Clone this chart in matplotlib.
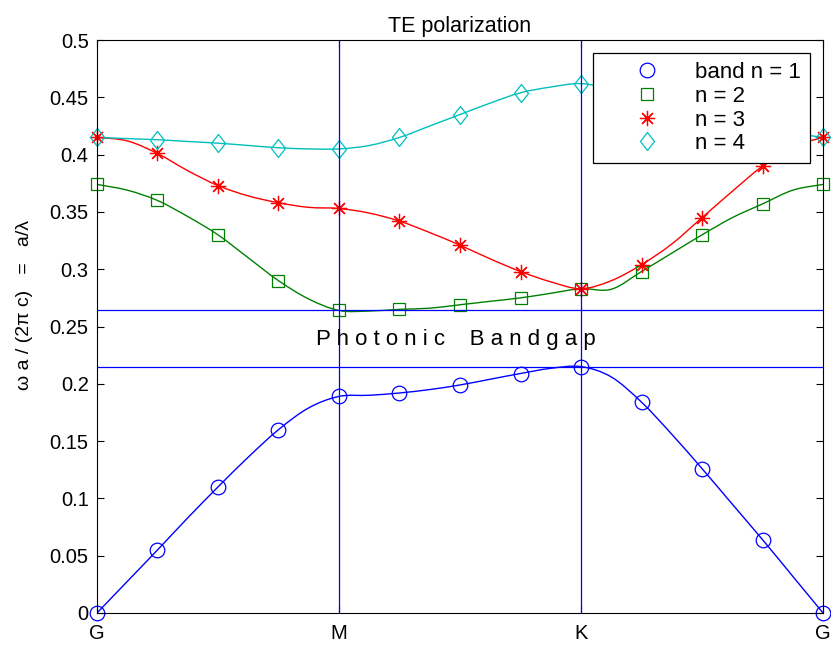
import matplotlib
matplotlib.use("Agg")
import matplotlib.pyplot as plt
from matplotlib.path import Path
from matplotlib.patches import PathPatch
import numpy as np

plt.rcParams.update({
    "font.family": ["Liberation Sans", "DejaVu Sans"],
    "xtick.direction": "in", "ytick.direction": "in",
    "xtick.top": True, "ytick.right": True,
})

# k-path positions of the computed points (G -> M -> K -> G)
k_pts = np.arange(13)
k_ticks = [0, 4, 8, 12]
k_labels = ["G", "M", "K", "G"]

# band frequencies at the marked k points
band1 = [0.0, 0.055, 0.110, 0.160, 0.189, 0.192, 0.199, 0.209, 0.215, 0.184, 0.126, 0.064, 0.0]
band2 = [0.374, 0.360, 0.330, 0.290, 0.264, 0.265, 0.269, 0.275, 0.283, 0.298, 0.330, 0.357, 0.374]
band3 = [0.415, 0.401, 0.373, 0.358, 0.353, 0.342, 0.321, 0.298, 0.283, 0.304, 0.345, 0.390, 0.415]
band4 = [0.415, 0.413, 0.410, 0.406, 0.405, 0.415, 0.435, 0.454, 0.462, 0.450, 0.437, 0.424, 0.415]

# curve values on a half-step grid (also)
k_fine = np.arange(25) / 2
curve1 = [0.0, 0.0275, 0.055, 0.083, 0.110, 0.136, 0.160, 0.179, 0.189, 0.190, 0.192, 0.195,
          0.199, 0.204, 0.209, 0.2135, 0.215, 0.206, 0.184, 0.156, 0.126, 0.095, 0.064, 0.032, 0.0]
curve2 = [0.374, 0.369, 0.360, 0.346, 0.330, 0.310, 0.290, 0.274, 0.264, 0.2635, 0.265, 0.266,
          0.269, 0.272, 0.275, 0.279, 0.283, 0.2825, 0.298, 0.314, 0.330, 0.345, 0.357, 0.369, 0.374]
curve3 = [0.415, 0.412, 0.401, 0.386, 0.373, 0.364, 0.358, 0.354, 0.353, 0.349, 0.342, 0.332,
          0.321, 0.309, 0.298, 0.289, 0.283, 0.290, 0.304, 0.322, 0.345, 0.368, 0.390, 0.407, 0.415]
curve4 = [0.415, 0.414, 0.413, 0.4115, 0.410, 0.408, 0.406, 0.405, 0.405, 0.408, 0.415, 0.425,
          0.435, 0.445, 0.454, 0.459, 0.462, 0.457, 0.450, 0.444, 0.437, 0.431, 0.424, 0.419, 0.415]

gap_top = 0.264
gap_bottom = 0.2145


def smooth_path(xs, ys):
    """Bezier path through the given points (Catmull-Rom tangents)."""
    p = np.column_stack([xs, ys])
    p_ext = np.vstack([p[0], p, p[-1]])
    verts = [p[0]]
    codes = [Path.MOVETO]
    for i in range(len(p) - 1):
        a, b, c, d = p_ext[i], p_ext[i + 1], p_ext[i + 2], p_ext[i + 3]
        verts += [b + (c - a) / 6, c - (d - b) / 6, c]
        codes += [Path.CURVE4] * 3
    return Path(verts, codes)


diamond = Path([(0, 1), (0.78, 0), (0, -1), (-0.78, 0), (0, 1)],
               [Path.MOVETO, Path.LINETO, Path.LINETO, Path.LINETO, Path.CLOSEPOLY])

fig = plt.figure(figsize=(8.31, 6.46), dpi=100)
ax = fig.add_axes([0.1167, 0.0511, 0.8737, 0.8869])

colors = ["#0000ff", "#008000", "#ff0000", "#00bfbf"]
markers = ["o", "s", (8, 2, 0), diamond]
msizes = [10.5, 9, 11, 13]
labels = ["band n = 1", "n = 2", "n = 3", "n = 4"]

for curve, c in zip([curve1, curve2, curve3, curve4], colors):
    ax.add_patch(PathPatch(smooth_path(k_fine, curve), facecolor="none",
                           edgecolor=c, linewidth=1))

handles = []
for band, c, m, ms, lab in zip([band1, band2, band3, band4], colors, markers, msizes, labels):
    h, = ax.plot(k_pts, band, linestyle="none", marker=m, markersize=ms, label=lab,
                 markerfacecolor="none", markeredgecolor=c, markeredgewidth=0.9,
                 clip_on=False)
    handles.append(h)

ax.axhline(gap_top, color="#0000ff", linewidth=0.9)
ax.axhline(gap_bottom, color="#0000ff", linewidth=0.9)
for kv in k_ticks[1:3]:
    ax.axvline(kv, color="#0000ff", linewidth=0.9)

ax.text(5.93, 0.2385, " ".join("Photonic") + "    " + " ".join("Bandgap"),
        ha="center", va="center", fontsize=16)

ax.set_xlim(0, 12)
ax.set_ylim(0, 0.5)
ax.set_xticks(k_ticks)
ax.set_xticklabels(k_labels)
ax.set_yticks(np.arange(0, 0.501, 0.05))
ax.set_yticklabels(["0", "0.05", "0.1", "0.15", "0.2", "0.25", "0.3", "0.35", "0.4", "0.45", "0.5"])
ax.tick_params(labelsize=14.5, length=5, width=0.8)
ax.tick_params(axis="x", pad=8)
ax.tick_params(axis="y", pad=6)
ax.set_title("TE polarization", fontsize=15.5)
ax.set_ylabel("ω a / (2π c)   =   a/λ", fontsize=14)
ax.yaxis.set_label_coords(-0.088, 0.537)

leg = ax.legend(handles=handles, loc="upper right", fontsize=16, fancybox=False,
                edgecolor="black", framealpha=1, handletextpad=0.1,
                borderaxespad=0.6, borderpad=0.4, labelspacing=0.12, handlelength=4.1)
leg.get_frame().set_linewidth(0.9)
leg.set_zorder(10)

fig.savefig("out.png", dpi=100)
